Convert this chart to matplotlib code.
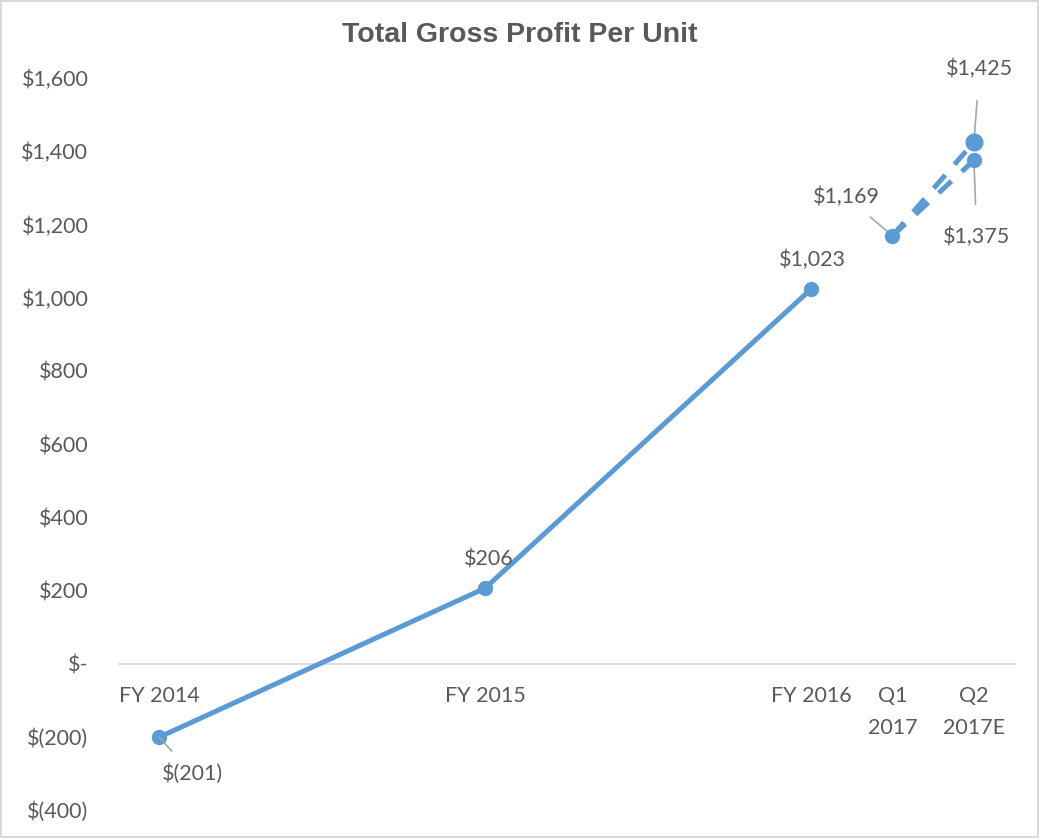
import matplotlib.pyplot as plt
from matplotlib.patches import Rectangle

# Data
periods = ["FY 2014", "FY 2015", "FY 2016", "Q1\n2017", "Q2\n2017E"]
period_pos = [0, 1, 2, 2.25, 2.5]
fy_profit = [-201, 206, 1023]
q1_profit = 1169
q2_high = 1425
q2_low = 1375

blue = "#5B9BD5"
text_col = "#595959"
lead_col = "#A6A6A6"

plt.rcParams['font.family'] = ['Lato', 'DejaVu Sans']
fs = 15.5

fig = plt.figure(figsize=(10.39, 8.38), dpi=100)
ax = fig.add_axes([0.1145, 0.0334, 0.8624, 0.8735])

# solid FY line
ax.plot(period_pos[:3], fy_profit, color=blue, lw=3.6, marker='o', ms=10,
        solid_capstyle='butt', zorder=3)
# dashed projections Q1 -> Q2
for q2 in (q2_high, q2_low):
    ax.plot([period_pos[3], period_pos[4]], [q1_profit, q2], color=blue, lw=3.6,
            dashes=(3.5, 2.8), zorder=3)
ax.plot([period_pos[3]], [q1_profit], 'o', color=blue, ms=10, zorder=4)
ax.plot([period_pos[4]], [q2_high], 'o', color=blue, ms=12, zorder=4)
ax.plot([period_pos[4]], [q2_low], 'o', color=blue, ms=10, zorder=4)

ax.set_xlim(-0.123, 2.626)
ax.set_ylim(-400, 1600)
ax.set_yticks(range(-400, 1601, 200))
ax.set_yticklabels(["$(400)", "$(200)", "$-", "$200", "$400", "$600", "$800",
                    "$1,000", "$1,200", "$1,400", "$1,600"])
ax.set_xticks(period_pos)
ax.set_xticklabels([])
# category labels below the zero line
for x, name in zip(period_pos, periods):
    ax.annotate(name, (x, 0), xytext=(0, -16), textcoords='offset points',
                ha='center', va='top', fontsize=fs, color=text_col,
                linespacing=1.75)

for s in ['top', 'right', 'left']:
    ax.spines[s].set_visible(False)
ax.spines['bottom'].set_position(('data', 0))
ax.spines['bottom'].set_color('#D9D9D9')
ax.spines['bottom'].set_linewidth(1.3)
ax.tick_params(axis='x', length=0)
ax.tick_params(axis='y', length=0, pad=22, labelsize=fs, labelcolor=text_col)
for lbl in ax.get_yticklabels():
    lbl.set_horizontalalignment('right')

fig.text(0.5, 0.958, "Total Gross Profit Per Unit", ha='center', va='center',
         fontsize=20.5, fontweight='bold', color=text_col, family='Liberation Sans')

lab_kw = dict(fontsize=fs, color=text_col, ha='center', va='center',
              textcoords='offset points')
ax.annotate("$206", (period_pos[1], fy_profit[1]), xytext=(3, 21), **lab_kw)
ax.annotate("$1,023", (period_pos[2], fy_profit[2]), xytext=(1, 21), **lab_kw)
ax.annotate("$(201)", (period_pos[0], fy_profit[0]), xytext=(24, -26),
            arrowprops=dict(arrowstyle='-', color=lead_col, lw=1.2,
                            shrinkA=9, shrinkB=0), **lab_kw)
ax.annotate("$1,169", (period_pos[3], q1_profit), xytext=(-33, 28),
            arrowprops=dict(arrowstyle='-', color=lead_col, lw=1.2,
                            shrinkA=8, shrinkB=0), **lab_kw)
ax.annotate("$1,425", (period_pos[4], q2_high), xytext=(4, 53),
            arrowprops=dict(arrowstyle='-', color=lead_col, lw=1.2,
                            shrinkA=14, shrinkB=0), **lab_kw)
ax.annotate("$1,375", (period_pos[4], q2_low), xytext=(2, -55),
            arrowprops=dict(arrowstyle='-', color=lead_col, lw=1.2,
                            shrinkA=14, shrinkB=0), **lab_kw)

# outer border
fig.patches.append(Rectangle((0.001, 0.001), 0.998, 0.998, transform=fig.transFigure,
                             fill=False, edgecolor='#D9D9D9', lw=1.5))

fig.savefig("out.png", dpi=100)
